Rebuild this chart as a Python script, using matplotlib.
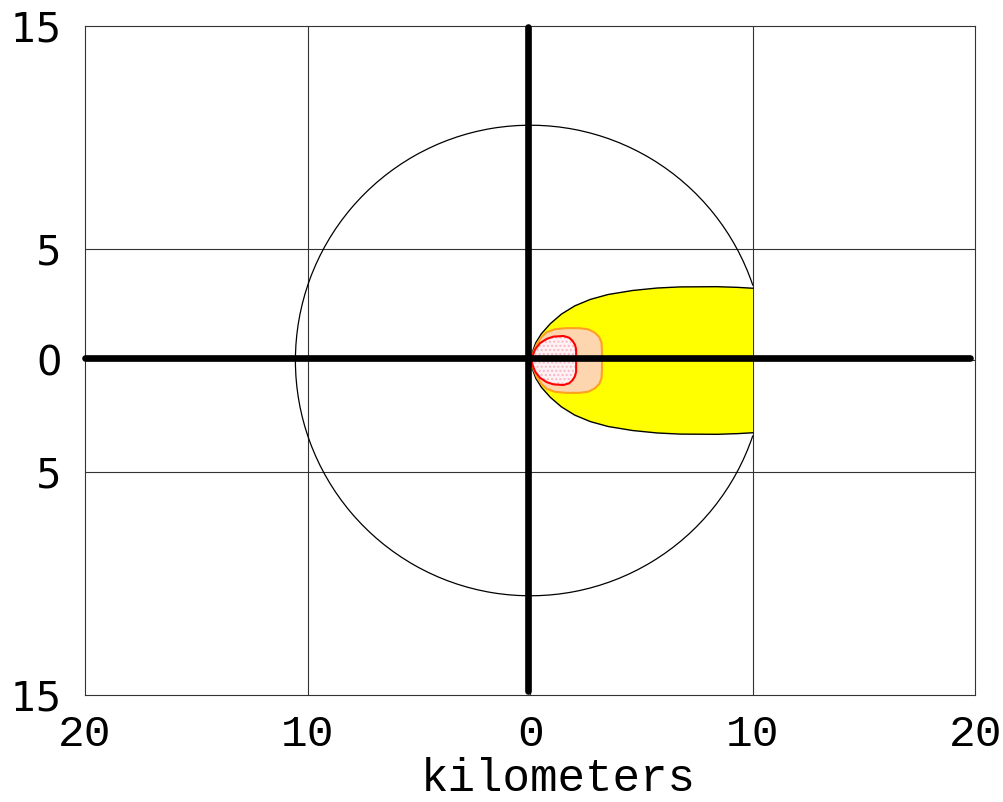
import numpy as np
import matplotlib
matplotlib.use("Agg")
import matplotlib.pyplot as plt
from matplotlib.patches import Polygon, Arc

# axis range (km)
x_ticks = [-20, -10, 0, 10, 20]
x_tick_labels = ["20", "10", "0", "10", "20"]
y_ticks = [-15, -5, 0, 5, 15]
y_tick_labels = ["15", "5", "0", "5", "15"]

# ring radius (km), cut where it meets the plume edge at x = 10
ring_radius = 10.55
plume_cut = 10.0

# plume outlines, upper half: distance downwind (km) and half width (km)
yellow_x = [0.06, 0.12, 0.25, 0.5, 0.9, 1.4, 2.0, 2.7, 3.5, 4.6, 5.7, 6.73, 8.38, 9.3, 10.0]
yellow_hw = [0.0, 0.45, 0.8, 1.2, 1.65, 2.08, 2.45, 2.74, 2.96, 3.14, 3.25, 3.3, 3.31, 3.28, 3.24]

orange_x = [0.08, 0.15, 0.3, 0.5, 0.74, 1.1, 1.6, 2.2, 2.6, 2.9, 3.1, 3.2, 3.22, 3.22]
orange_hw = [0.0, 0.4, 0.75, 1.05, 1.27, 1.4, 1.45, 1.45, 1.4, 1.25, 1.05, 0.8, 0.4, 0.0]

red_x = [0.06, 0.12, 0.22, 0.44, 0.74, 1.04, 1.49, 1.75, 1.9, 2.01, 2.06, 2.06]
red_hw = [0.0, 0.25, 0.5, 0.78, 0.97, 1.07, 1.1, 1.02, 0.88, 0.7, 0.5, 0.0]

plume_center = 0.0

# thick cross lines
cross_x = -0.12
cross_y = 0.12


def outline(xs, hws, yc):
    xs = np.asarray(xs, float)
    hws = np.asarray(hws, float)
    px = np.concatenate([xs, xs[::-1]])
    py = np.concatenate([yc + hws, yc - hws[::-1]])
    return np.column_stack([px, py])


fig = plt.figure(figsize=(10.04, 8.02), dpi=100)
ax = fig.add_axes([0.0847, 0.1334, 0.8869, 0.8342])
ax.set_xlim(-20, 20)
ax.set_ylim(-15, 15)

# grid
gcol = "#333333"
for gx in x_ticks[1:-1]:
    ax.plot([gx, gx], [-15, 15], color=gcol, lw=0.8, zorder=1)
for gy in y_ticks[1:-1]:
    ax.plot([-20, 20], [gy, gy], color=gcol, lw=0.8, zorder=1)

# ring
ang = np.degrees(np.arccos(plume_cut / ring_radius))
ax.add_patch(Arc((0, 0), 2 * ring_radius, 2 * ring_radius, theta1=ang, theta2=360 - ang,
                 color="black", lw=0.9, zorder=2))

# plume zones
ax.add_patch(Polygon(outline(yellow_x, yellow_hw, plume_center), closed=True,
                     facecolor="#ffff00", edgecolor="none", zorder=3))
ax.plot(yellow_x, np.array(yellow_hw) + plume_center, color="black", lw=1.0, zorder=3.1)
ax.plot(yellow_x, -np.array(yellow_hw) + plume_center, color="black", lw=1.0, zorder=3.1)

ax.add_patch(Polygon(outline(orange_x, orange_hw, plume_center), closed=True,
                     facecolor="#fdd6b0", edgecolor="#ffa020", lw=1.5, zorder=4))

ax.add_patch(Polygon(outline(red_x, red_hw, plume_center), closed=True,
                     facecolor="#fff2f4", edgecolor="#f7b8c4", lw=0, hatch="....", zorder=5))
ax.add_patch(Polygon(outline(red_x, red_hw, plume_center), closed=True,
                     facecolor="none", edgecolor="#ff0000", lw=1.5, zorder=5.1))

# thick cross
ax.plot([-20, 19.75], [cross_y, cross_y], color="black", lw=4.8,
        solid_capstyle="round", zorder=6, clip_on=False)
ax.plot([cross_x, cross_x], [-14.8, 14.95], color="black", lw=4.8,
        solid_capstyle="round", zorder=6, clip_on=False)

for s in ax.spines.values():
    s.set_color(gcol)
    s.set_linewidth(0.8)

ax.set_xticks(x_ticks)
ax.set_xticklabels(x_tick_labels, fontfamily="Liberation Mono", fontsize=32)
ax.set_yticks(y_ticks)
ax.set_yticklabels(y_tick_labels, fontfamily="DejaVu Sans", fontsize=29)
ax.tick_params(axis="both", length=0)
ax.tick_params(axis="x", pad=14)
ax.tick_params(axis="y", pad=17)

ax.set_xlabel("kilometers", fontfamily="Liberation Mono", fontsize=33)
ax.xaxis.set_label_coords(0.531, -0.093)
ax.xaxis.label.set_verticalalignment("top")

fig.savefig("out.png", dpi=100)
